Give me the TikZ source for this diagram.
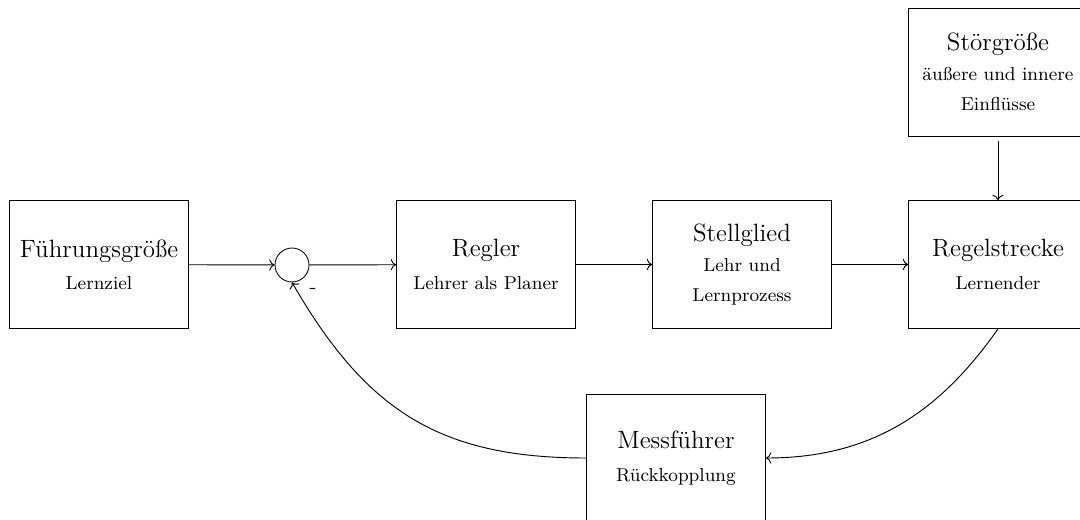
\documentclass[tikz,border=0pt]{standalone}
\usetikzlibrary{arrows.meta}
\begin{document}
\begin{tikzpicture}[x=0.48pt,y=0.48pt,
  block/.style={draw, minimum width=85.9pt, minimum height=61.4pt,
                align=center, font=\small, inner sep=3pt},
  sumpoint/.style={draw, circle, minimum size=16.3pt, inner sep=0pt},
  flow/.style={->, line width=0.45pt}]
\useasboundingbox (0,0) rectangle (1080,519);

% control loop blocks
\node[block] (fuehrung) at (99,254.5) {{\large Führungsgröße}\\[4.5pt] Lernziel};
\node[sumpoint] (sum) at (292,254) {};
\node[block] (regler) at (486,254.5) {{\large Regler}\\[4.5pt] Lehrer als Planer};
\node[block] (stell) at (742,254.5) {{\large Stellglied}\\[3.5pt] Lehr und\\[3.4pt] Lernprozess};
\node[block] (strecke) at (998,254.5) {{\large Regelstrecke}\\[4.5pt] Lernender};
\node[block] (stoer) at (998,447) {{\large Störgröße}\\[3.5pt] äußere und innere\\[3.4pt] Einflüsse};
\node[block] (mess) at (676,61) {{\large Messführer}\\[4.5pt] Rückkopplung};
\node (minus) at (313,228) {-};

% forward path
\draw[flow] (fuehrung) -- (sum);
\draw[flow] (sum) -- (regler);
\draw[flow] (regler) -- (stell);
\draw[flow] (stell) -- (strecke);
\draw[flow, shorten <=2pt] (stoer) -- (strecke);

% feedback path
\draw[flow] (strecke.south) to[out=-125, in=0] (mess.east);
\draw[flow] (mess.west) to[out=180, in=-60, looseness=1.1] (sum.south);
\end{tikzpicture}
\end{document}
